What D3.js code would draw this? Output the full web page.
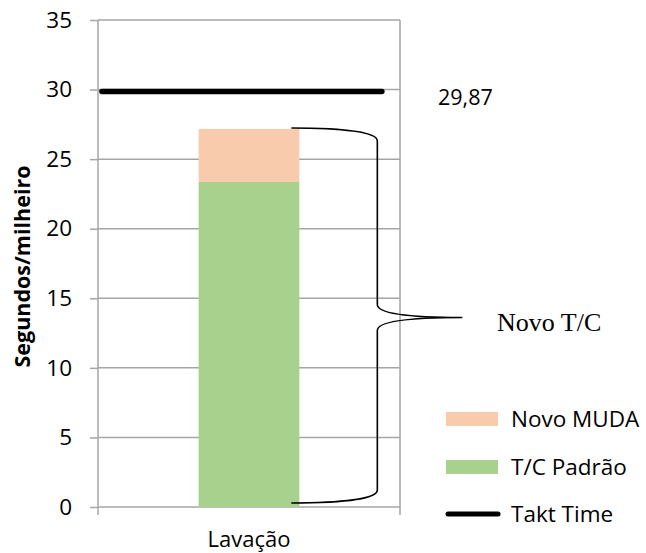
<!DOCTYPE html>
<html>
<head>
<meta charset="utf-8">
<script src="https://cdn.jsdelivr.net/npm/d3@7/dist/d3.min.js"></script>
<style>
  html, body { margin: 0; padding: 0; background: #fff; }
  svg { display: block; }
  text { fill: #000; }
</style>
</head>
<body>
<svg id="chart" width="646" height="553"></svg>
<script>
// Stacked cycle time for the washing step, with takt time reference
const categories = ["Lavação"];
const tcPadrao = [23.36];
const novoMuda = [3.81];
const taktTime = 29.87;
const yTicks = [0, 5, 10, 15, 20, 25, 30, 35];
const taktLabel = "29,87";

const sans = "'Open Sans', 'Liberation Sans', sans-serif";
const serif = "'Liberation Serif', 'Times New Roman', serif";

const svg = d3.select("#chart");
const plot = { left: 98, right: 400, top: 20, bottom: 507 };

const y = d3.scaleLinear().domain([0, 35]).range([plot.bottom, plot.top]);
const x = d3.scaleBand().domain(categories).range([plot.left, plot.right]).padding(0.5);

const gridColor = "#a6a6a6";

// horizontal gridlines
svg.append("g")
  .selectAll("line")
  .data(yTicks)
  .join("line")
  .attr("x1", plot.left)
  .attr("x2", plot.right)
  .attr("y1", d => y(d))
  .attr("y2", d => y(d))
  .attr("stroke", gridColor)
  .attr("stroke-width", 1.5);

// left value axis
const yAxis = svg.append("g")
  .attr("transform", `translate(${plot.left},0)`)
  .call(d3.axisLeft(y).tickValues(yTicks).tickSize(8).tickPadding(18));
yAxis.select(".domain").remove();
yAxis.selectAll(".tick line").attr("stroke", gridColor).attr("stroke-width", 1.5);
yAxis.selectAll(".tick text")
  .attr("font-size", 22.5)
  .style("font-family", sans)
  .attr("fill", "#000");

// vertical axis line and category boundary marks
svg.append("line")
  .attr("x1", plot.left).attr("x2", plot.left)
  .attr("y1", plot.top).attr("y2", plot.bottom + 8)
  .attr("stroke", gridColor).attr("stroke-width", 1.5);
svg.append("line")
  .attr("x1", plot.right).attr("x2", plot.right)
  .attr("y1", plot.top).attr("y2", plot.bottom + 8)
  .attr("stroke", gridColor).attr("stroke-width", 1.5);

// stacked bars
const stackData = categories.map((c, i) => ({ cat: c, padrao: tcPadrao[i], muda: novoMuda[i] }));
const series = d3.stack().keys(["padrao", "muda"])(stackData);
const colors = { padrao: "#a9d18e", muda: "#f8cbad" };

svg.append("g")
  .selectAll("g")
  .data(series)
  .join("g")
  .attr("fill", d => colors[d.key])
  .selectAll("rect")
  .data(d => d)
  .join("rect")
  .attr("x", d => x(d.data.cat))
  .attr("width", x.bandwidth())
  .attr("y", d => y(d[1]))
  .attr("height", d => y(d[0]) - y(d[1]));

// takt time line
const taktX0 = plot.left + (plot.right - plot.left) * 0.013;
const taktX1 = plot.left + (plot.right - plot.left) * 0.94;
svg.append("line")
  .attr("x1", taktX0).attr("x2", taktX1)
  .attr("y1", y(taktTime)).attr("y2", y(taktTime))
  .attr("stroke", "#000").attr("stroke-width", 5.5)
  .attr("stroke-linecap", "round");

svg.append("text")
  .attr("x", 438)
  .attr("y", y(taktTime) + 14)
  .attr("font-size", 21.5)
  .style("font-family", sans)
  .text(taktLabel);

// category label
svg.append("text")
  .attr("x", x(categories[0]) + x.bandwidth() / 2)
  .attr("y", 547)
  .attr("text-anchor", "middle")
  .attr("font-size", 22)
  .style("font-family", sans)
  .text(categories[0]);

// value axis title
svg.append("text")
  .attr("transform", `translate(30,${(plot.top + plot.bottom) / 2 + 3}) rotate(-90)`)
  .attr("text-anchor", "middle")
  .attr("font-size", 21.5)
  .attr("font-weight", "bold")
  .style("font-family", sans)
  .text("Segundos/milheiro");

// curly brace spanning the new cycle time
const total = tcPadrao[0] + novoMuda[0];
const bx0 = x(categories[0]) + x.bandwidth() - 8;
const bx1 = bx0 + 86;
const tipX = bx1 + 85;
const yTop = y(total) - 1;
const yBot = y(0) - 4;
const yMid = (yTop + yBot) / 2 + 2;
const brace = d3.path();
brace.moveTo(bx0, yTop);
brace.bezierCurveTo(bx0 + 50, yTop, bx1, yTop + 4, bx1, yTop + 13);
brace.lineTo(bx1, yMid - 13);
brace.bezierCurveTo(bx1, yMid - 4, bx1 + 32, yMid, tipX, yMid);
brace.bezierCurveTo(bx1 + 32, yMid, bx1, yMid + 4, bx1, yMid + 13);
brace.lineTo(bx1, yBot - 13);
brace.bezierCurveTo(bx1, yBot - 4, bx0 + 50, yBot, bx0, yBot);
svg.append("path")
  .attr("d", brace.toString())
  .attr("fill", "none")
  .attr("stroke", "#000")
  .attr("stroke-width", 1.6);

svg.append("text")
  .attr("x", 497)
  .attr("y", yMid + 14)
  .attr("font-size", 26)
  .style("font-family", serif)
  .text("Novo T/C");

// legend
const legendItems = [
  { label: "Novo MUDA", type: "rect", color: colors.muda, cy: 419 },
  { label: "T/C Padrão", type: "rect", color: colors.padrao, cy: 467 },
  { label: "Takt Time", type: "line", color: "#000", cy: 514 }
];
const legend = svg.append("g");
legendItems.forEach(item => {
  if (item.type === "rect") {
    legend.append("rect")
      .attr("x", 446).attr("y", item.cy - 7)
      .attr("width", 52).attr("height", 14)
      .attr("fill", item.color);
  } else {
    legend.append("line")
      .attr("x1", 448).attr("x2", 498)
      .attr("y1", item.cy).attr("y2", item.cy)
      .attr("stroke", item.color).attr("stroke-width", 5)
      .attr("stroke-linecap", "round");
  }
  legend.append("text")
    .attr("x", 511)
    .attr("y", item.cy)
    .attr("dy", "0.35em")
    .attr("font-size", 22.5)
    .style("font-family", sans)
    .text(item.label);
});
</script>
</body>
</html>
